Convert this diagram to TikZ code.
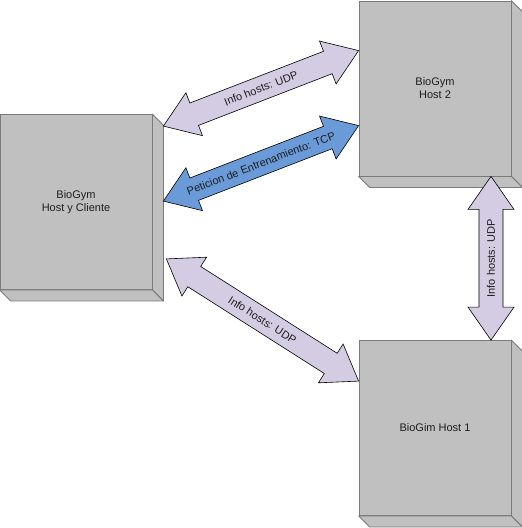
\documentclass[tikz,border=0pt]{standalone}
\usepackage{fontspec}
\setmainfont{Liberation Sans}
\usetikzlibrary{calc}
\definecolor{boxfill}{HTML}{C0C0C0}
\definecolor{boxline}{HTML}{7A7A7A}
\definecolor{lav}{HTML}{D3CCE2}
\definecolor{tcpblue}{HTML}{6A9BD8}
\definecolor{txt}{HTML}{1E1E1E}
\newcommand\headlen{33pt}
\newcommand\headw{23pt}
\newcommand\shaftw{12pt}
\newcommand\fatarrow[4]{%
  \coordinate (p1) at ($(#1)!\headlen!(#2)$);
  \coordinate (p2) at ($(#2)!\headlen!(#1)$);
  \draw[#3] (#1) -- ($(p1)!\headw!90:(#2)$) -- ($(p1)!\shaftw!90:(#2)$)
    -- ($(p2)!\shaftw!-90:(#1)$) -- ($(p2)!\headw!-90:(#1)$) -- (#2)
    -- ($(p2)!\headw!90:(#1)$) -- ($(p2)!\shaftw!90:(#1)$)
    -- ($(p1)!\shaftw!-90:(#2)$) -- ($(p1)!\headw!-90:(#2)$) -- cycle;
  \path (#1) -- node[sloped, lbl] {#4} (#2);
}
\newcommand\boxsides[1]{%
  \filldraw[boxside] (#1.north east) -- ++(11,11) -- ($(#1.south east)+(11,11)$) -- (#1.south east) -- cycle;
  \filldraw[boxside] (#1.south west) -- (#1.south east) -- ($(#1.south east)+(11,11)$) -- ($(#1.south west)+(11,11)$) -- cycle;
}
\tikzset{
  hostbox/.style={draw=boxline, fill=boxfill, line width=0.8pt, minimum width=152pt, minimum height=175pt, inner sep=0pt, align=center, text=txt, font=\fontsize{11}{13}\selectfont},
  boxside/.style={draw=boxline, fill=boxfill, line width=0.8pt, line join=round},
  udparrow/.style={draw=black, fill=lav, line width=0.6pt, line join=miter},
  tcparrow/.style={draw=black, fill=tcpblue, line width=0.6pt, line join=miter},
  lbl/.style={text=txt, font=\fontsize{11}{13}\selectfont, inner sep=0pt}
}
\begin{document}
\begin{tikzpicture}[x=1pt, y=-1pt]
\useasboundingbox (0,0) rectangle (522,528);
\node[hostbox] (L) at (76,202) {BioGym\\Host y Cliente};
\boxsides{L}
\node[hostbox] (H2) at (435,88.5) {BioGym\\Host 2};
\boxsides{H2}
\node[hostbox] (H1) at (435,428) {BioGim Host 1};
\boxsides{H1}
\coordinate (a1) at ($(L.north east)+(11,12)$);
\coordinate (b1) at ($(H2.north west)+(0,50)$);
\coordinate (a2) at ($(L.north east)+(11,87)$);
\coordinate (b2) at ($(H2.north west)+(0,125)$);
\coordinate (a3) at ($(L.south east)+(14,-31)$);
\coordinate (b3) at ($(H1.north west)+(0,41)$);
\coordinate (a4) at ($(H2.south)+(56,0)$);
\coordinate (b4) at ($(H1.north)+(56,0)$);
\fatarrow{a1}{b1}{udparrow}{Info hosts: UDP}
\fatarrow{a2}{b2}{tcparrow}{Peticion de Entrenamiento: TCP}
\fatarrow{a3}{b3}{udparrow}{Info hosts: UDP}
\fatarrow{b4}{a4}{udparrow}{Info hosts: UDP}
\end{tikzpicture}
\end{document}
